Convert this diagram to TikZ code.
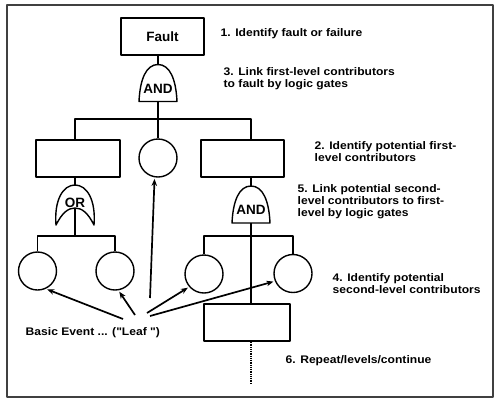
\documentclass[tikz,border=0pt]{standalone}
\usepackage{fontspec}
\setmainfont{Liberation Sans}
\newfontfamily\widefont{Liberation Sans}[FakeStretch=1.1]
\usetikzlibrary{arrows.meta}
\begin{document}
\begin{tikzpicture}[x=1pt,y=-1pt, line width=1.4pt, line join=round,
 lbl/.style={anchor=base west, inner sep=0, font=\widefont\bfseries\fontsize{11}{12}\selectfont},
 box/.style={draw, rectangle, minimum width=84, minimum height=37, inner sep=0},
 evt/.style={draw, circle, minimum size=38, inner sep=0},
 gtxt/.style={font=\bfseries\fontsize{13.5}{14}\selectfont, inner sep=0},
 arr/.style={-{Stealth[length=7pt,width=5.5pt]}, line width=1.7pt, shorten >=1.5pt},
 andgate/.pic={
   \draw (-19,0) .. controls (-18,-22) and (-12,-37) .. (0,-37)
         .. controls (12,-37) and (18,-22) .. (19,0) -- cycle;
   \node[gtxt] (-txt) at (0,-13) {AND};
   \coordinate (-top) at (0,-37);
   \coordinate (-bot) at (0,0);
 },
 orgate/.pic={
   \draw (-19,0) .. controls (-21,-25) and (-12,-40) .. (0,-40)
         .. controls (12,-40) and (21,-25) .. (19,0)
         .. controls (13,-12) and (7,-17) .. (0,-17)
         .. controls (-7,-17) and (-13,-12) .. (-19,0) -- cycle;
   \node[gtxt] (-txt) at (0,-22) {OR};
   \coordinate (-top) at (0,-40);
   \coordinate (-bot) at (0,-17);
 }
]
\useasboundingbox (0,0) rectangle (500,400);
\draw[line width=1.6pt, black!75] (7,5) rectangle (493,397);

% top event
\node[box, minimum width=83, font=\bfseries\fontsize{13.5}{14}\selectfont] (fault) at (162.5,36.5) {Fault};
\pic (g1) at (158,101.5) {andgate};

% first level
\node[box] (b1) at (78,158.5) {};
\node[evt] (cm) at (158,158) {};
\node[box, minimum width=83] (b2) at (242.5,158.5) {};
\pic (or) at (75,225) {orgate};
\pic (g2) at (251,223) {andgate};

% second level
\node[evt] (c1) at (37.5,271) {};
\node[evt] (c2) at (115,271) {};
\node[evt] (c3) at (204,274) {};
\node[evt] (c4) at (293,273.5) {};
\node[box, minimum width=86] (b3) at (247,322.5) {};

\coordinate (j1) at (158,119);
\coordinate (j2) at (75,236);
\coordinate (j3) at (251,236);
\coordinate (dotend) at (251,384);

% connectors
\draw (fault.south -| g1-top) -- (g1-top);
\draw (g1-bot) -- (j1);
\draw (b1.north -| or-top) |- (j1) -| (b2.north -| g2-top);
\draw (j1) -- (cm.north);
\draw (b1.south -| or-top) -- (or-top);
\draw (b2.south -| g2-top) -- (g2-top);
\draw (or-bot) -- (j2);
\draw (c1.north) |- (j2) -| (c2.north);
\draw (g2-bot) -- (b3.north -| g2-bot);
\draw (c3.north) |- (j3) -| (c4.north);
\draw[line width=1.2pt, dash pattern=on 1pt off 0.8pt] (b3.south -| dotend) -- (dotend);

% basic event label and arrows
\node[lbl] (tb) at (25,335) {Basic Event ... ("Leaf ")};
\coordinate (s1) at (123,319);
\coordinate (s2) at (135,315);
\coordinate (s3) at (147,313);
\coordinate (s4) at (150,316);
\coordinate (s5) at (150,298);
\draw[arr] (s1) -- (c1.-65);
\draw[arr] (s2) -- (c2.-80);
\draw[arr] (s3) -- (c3.-139);
\draw[arr] (s4) -- (c4.-157);
\draw[arr] (s5) -- (cm.-100);

% step texts
\node[lbl] (t1) at (220,36.5) {1. Identify fault or failure};
\node[lbl] (t3a) at (223,75.5) {3. Link first-level contributors};
\node[lbl] (t3b) at (223,87.5) {to fault by logic gates};
\node[lbl] (t2a) at (314,149) {2. Identify potential first-};
\node[lbl] (t2b) at (314,161) {level contributors};
\node[lbl] (t5a) at (297,192) {5. Link potential second-};
\node[lbl] (t5b) at (297,204) {level contributors to first-};
\node[lbl] (t5c) at (297,216) {level by logic gates};
\node[lbl] (t4a) at (332,281) {4. Identify potential};
\node[lbl] (t4b) at (332,293) {second-level contributors};
\node[lbl] (t6) at (285,363) {6. Repeat/levels/continue};
\end{tikzpicture}
\end{document}
